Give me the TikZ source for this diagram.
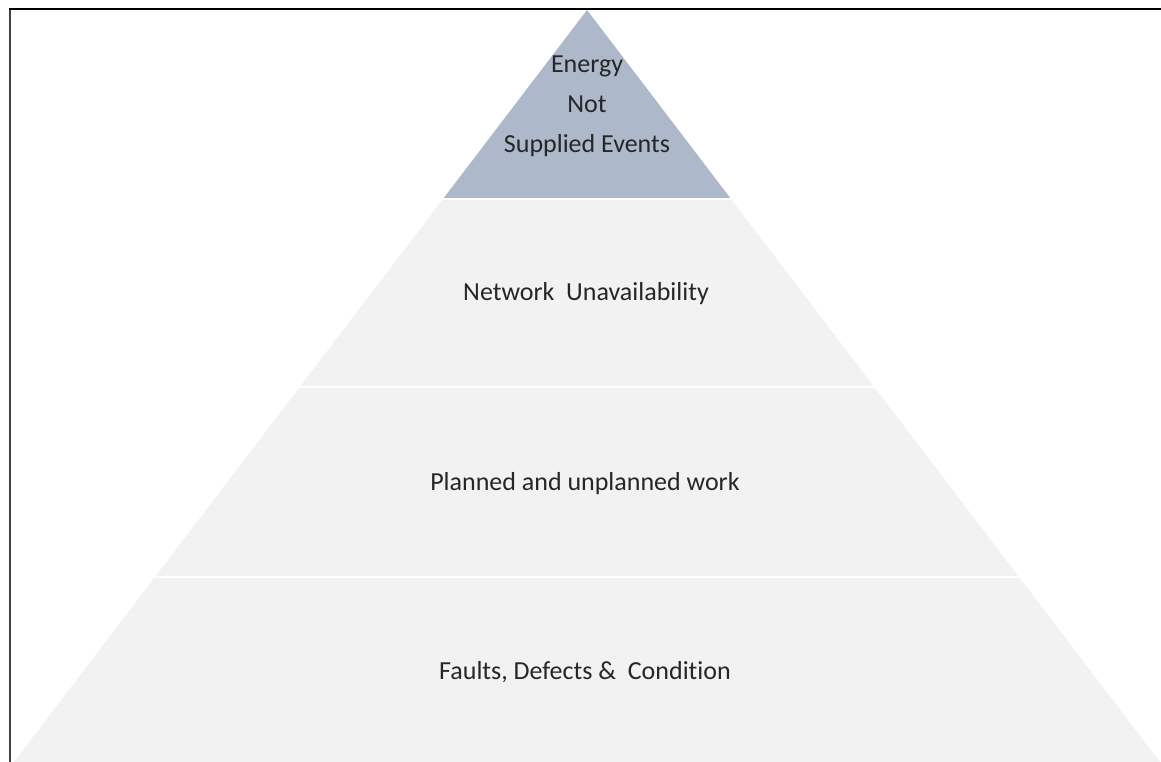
\documentclass[tikz,border=0pt]{standalone}
\usepackage{fontspec}
\setmainfont{Carlito}[Ligatures=NoCommon]
\definecolor{topband}{HTML}{ADB9CA}
\definecolor{lowband}{HTML}{F2F2F2}
\begin{document}
\begin{tikzpicture}[x=1pt,y=-1pt,
    label/.style={font=\fontsize{26}{40}\selectfont,text=black!85,align=center}]
  \useasboundingbox (0,0) rectangle (1161,762);

  % pyramid: apex at (587,10), half width grows 0.762 per unit down
  \fill[topband] (587,10) -- ({587-0.762*188},198) -- ({587+0.762*188},198) -- cycle;
  \foreach \ya/\yb in {200/386,388/576,578/762}
    \fill[lowband] ({587-0.762*(\ya-10)},\ya) -- ({587+0.762*(\ya-10)},\ya)
      -- ({587+0.762*(\yb-10)},\yb) -- ({587-0.762*(\yb-10)},\yb) -- cycle;

  \draw[line width=2pt,black!75] (10,762) -- (10,9);
  \draw[line width=2pt] (9,9) -- (1161,9);

  \node[label] (ens) at (587,106) {Energy\\Not\\Supplied Events};
  \node[label] (unav) at (586,294) {Network \ Unavailability};
  \node[label] (work) at (585,484) {Planned and unplanned work};
  \node[label] (faults) at (585,672) {Faults, Defects \& \ Condition};
\end{tikzpicture}
\end{document}
